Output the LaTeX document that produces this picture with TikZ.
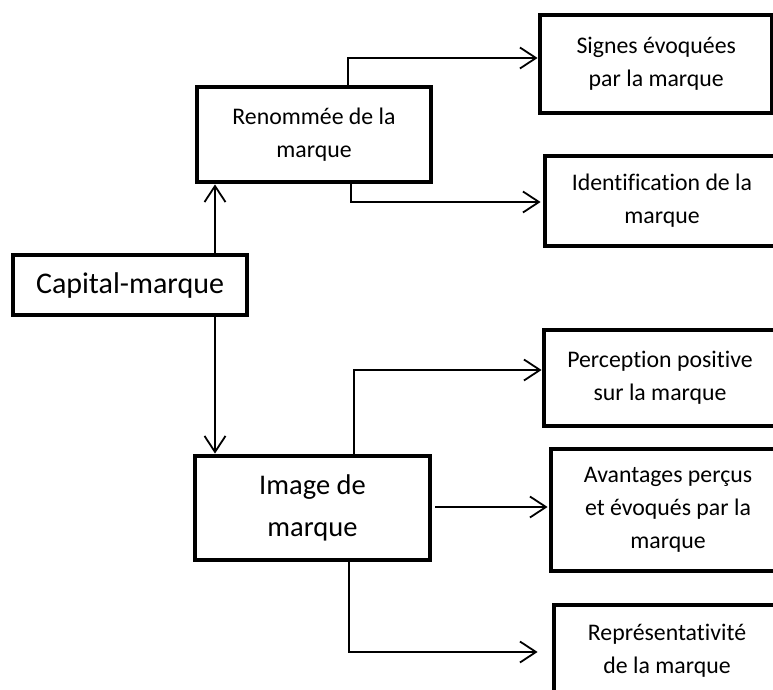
\documentclass[tikz,border=0pt]{standalone}
\usepackage{fontspec}
\setmainfont{Carlito}[Ligatures=NoCommon]
\usetikzlibrary{arrows.meta}
\begin{document}
\begin{tikzpicture}[x=1pt,y=-1pt,
  box/.style={draw, line width=4.8pt, align=center, inner sep=0pt,
    font=\fontsize{23.8}{33}\selectfont},
  conn/.style={line width=1.5pt,
    -{Straight Barb[length=16pt,width=21pt,line width=1.8pt]}}]
\useasboundingbox (0,0) rectangle (773,690);
\clip (0,0) rectangle (773,690);
% boxes
\node[box, minimum width=232.5pt, minimum height=98pt] (sig) at (656.25,64) {Signes évoquées\\par la marque};
\node[box, minimum width=234pt, minimum height=95pt] (ren) at (314,134.5) {Renommée de la\\marque};
\node[box, minimum width=234pt, minimum height=90pt] (idn) at (662,201) {Identification de la\\marque};
\node[box, minimum width=234pt, minimum height=60pt, font=\fontsize{30}{36}\selectfont] (cap) at (130,285) {Capital-marque};
\node[box, minimum width=232pt, minimum height=96pt] (per) at (660,378) {Perception positive\\sur la marque};
\node[box, minimum width=235pt, minimum height=104pt, font=\fontsize{28.5}{42}\selectfont] (img) at (312.5,508) {Image de\\marque};
\node[box, minimum width=234pt, minimum height=122pt] (ava) at (668,510) {Avantages perçus\\et évoqués par la\\marque};
\node[box, minimum width=226pt, minimum height=92pt] (rep) at (667,651) {Représentativité\\de la marque};
% helper levels
\coordinate (h1) at (0,58);
\coordinate (h2) at (0,202);
\coordinate (h3) at (0,370);
\coordinate (h4) at (0,507);
\coordinate (h5) at (0,652);
% connectors
\draw[conn] ([xshift=85pt]cap.north) -- ([xshift=85pt]cap.north |- ren.south);
\draw[conn] ([xshift=85pt]cap.south) -- ([xshift=85pt]cap.south |- img.north);
\draw[conn] ([xshift=34pt]ren.north) |- (sig.west |- h1);
\draw[conn] ([xshift=37pt]ren.south) |- ([xshift=-2pt]idn.west |- h2);
\draw[conn] ([xshift=41.5pt]img.north) |- (per.west |- h3);
\draw[conn] ([xshift=3pt]img.east |- h4) -- ([xshift=-1pt]ava.west |- h4);
\draw[conn] ([xshift=36.5pt]img.south) |- ([xshift=-14pt]rep.west |- h5);
\end{tikzpicture}
\end{document}
